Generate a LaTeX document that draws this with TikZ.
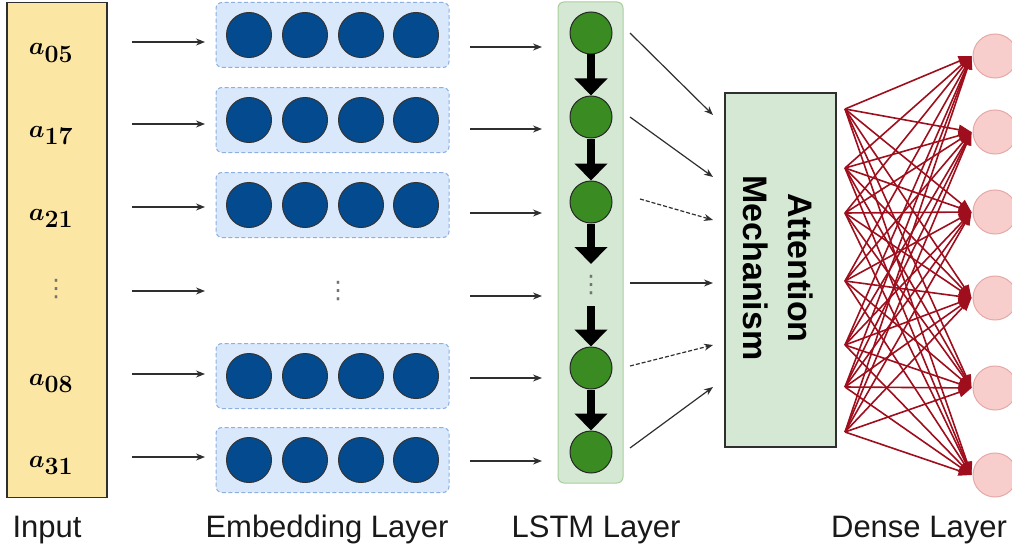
\documentclass[tikz,border=0pt]{standalone}
\usepackage{fontspec}
\newfontfamily\labfont{Liberation Sans}
\newfontfamily\symfont{DejaVu Sans}
\usetikzlibrary{arrows.meta}

\definecolor{inputfill}{HTML}{FCE6A4}
\definecolor{embfill}{HTML}{DAE8FC}
\definecolor{embline}{HTML}{8DB0E0}
\definecolor{embdot}{HTML}{034A8E}
\definecolor{lstmfill}{HTML}{D5E8D4}
\definecolor{lstmline}{HTML}{A8CF9C}
\definecolor{lstmdot}{HTML}{3A8C22}
\definecolor{densered}{HTML}{9E0E1C}
\definecolor{outfill}{HTML}{F8CECC}
\definecolor{outline}{HTML}{E6A9A7}
\definecolor{edge}{HTML}{2F2F2F}

\tikzset{
  inbox/.style={draw=edge, line width=1.5pt, fill=inputfill, minimum width=100pt, minimum height=495pt, inner sep=0pt},
  inlabel/.style={anchor=base, inner sep=0pt, font=\fontsize{39}{42}\selectfont\boldmath},
  embbox/.style={draw=embline, dash pattern=on 4pt off 2.5pt, line width=1pt, fill=embfill, rounded corners=6pt, minimum width=233pt, minimum height=65pt, inner sep=0pt},
  embcell/.style={circle, draw=black!80, line width=1pt, fill=embdot, minimum size=45pt, inner sep=0pt},
  lstmbox/.style={draw=lstmline, line width=1pt, fill=lstmfill, rounded corners=6pt, minimum width=65pt, minimum height=481pt, inner sep=0pt},
  lstmcell/.style={circle, draw=black!85, line width=1pt, fill=lstmdot, minimum size=42pt, inner sep=0pt},
  flow/.style={draw=edge, line width=1.2pt, -{Stealth[length=9pt,width=7pt]}},
  dashflow/.style={flow, dash pattern=on 4pt off 2pt},
  bigarrow/.style={draw=black, line width=8pt, -{Triangle[length=17pt,width=32pt]}},
  attbox/.style={draw=edge, line width=1.5pt, fill=lstmfill, minimum width=111pt, minimum height=354pt, inner sep=0pt},
  outcell/.style={circle, draw=outline, line width=1pt, fill=outfill, minimum size=44pt, inner sep=0pt},
  denselink/.style={draw=densered, line width=1.6pt, -{Triangle[length=13pt,width=10pt]}},
  caption/.style={anchor=base, inner sep=0pt, font=\labfont\fontsize{31}{36}\selectfont, text=black!90},
  vdots/.style={inner sep=0pt, text=black!55, font=\symfont\fontsize{24}{26}\selectfont},
}

\begin{document}
\begin{tikzpicture}[x=1pt, y=-1pt]
\useasboundingbox (0,0) rectangle (1012,551);
\clip (0,0) rectangle (1012,551);

% ---- input column ----
\node[inbox] (inp) at (57,250) {};
\node[inlabel] (x1) at (51,55) {$a_{05}$};
\node[inlabel] (x2) at (51,137) {$a_{17}$};
\node[inlabel] (x3) at (51,220) {$a_{21}$};
\node[vdots] (x4) at (56,289) {⋮};
\node[inlabel] (x5) at (51,385) {$a_{08}$};
\node[inlabel] (x6) at (51,467) {$a_{31}$};

% ---- embedding rows ----
\foreach \r/\y in {1/35, 2/120, 3/205, 5/376, 6/460} {
  \node[embbox] (e\r) at (332.5,\y) {};
  \foreach \c/\x in {1/249, 2/305, 3/361, 4/416}
    \node[embcell] (e\r c\c) at (\x,\y) {};
}
\node[vdots] (e4) at (338,291) {⋮};

% input -> embedding
\foreach \r/\y in {1/42, 2/124, 3/207, 4/291, 5/374, 6/457} {
  \coordinate (ia\r) at (132,\y);
  \coordinate (ib\r) at (205,\y);
  \draw[flow] (ia\r) -- (ib\r);
}

% embedding -> LSTM
\foreach \r/\y in {1/47, 2/129, 3/213, 4/296, 5/378, 6/461} {
  \coordinate (ea\r) at (470,\y);
  \coordinate (eb\r) at (542,\y);
  \draw[flow] (ea\r) -- (eb\r);
}

% ---- LSTM column ----
\node[lstmbox] (lstm) at (590.5,242.5) {};
\node[lstmcell] (h1) at (591,33) {};
\node[lstmcell] (h2) at (591,117) {};
\node[lstmcell] (h3) at (591,202) {};
\node[vdots] (hd) at (591,285) {⋮};
\node[lstmcell] (h5) at (591,368) {};
\node[lstmcell] (h6) at (591,452) {};
\coordinate (hdin) at (591,264);
\coordinate (hdout) at (591,306);

\draw[bigarrow] (h1.south) -- (h2.north);
\draw[bigarrow] (h2.south) -- (h3.north);
\draw[bigarrow] (h3.south) -- (hdin);
\draw[bigarrow] (hdout) -- (h5.north);
\draw[bigarrow] (h5.south) -- (h6.north);

% ---- attention ----
\node[attbox] (att) at (780.5,270) {};
\node[rotate=-90, align=center, inner sep=0pt,
      font=\labfont\bfseries\fontsize{34}{45}\selectfont] (attlabel) at (778,268)
  {Attention\\Mechanism};

\coordinate (s1) at (630,33);   \coordinate (t1) at (713,115);
\coordinate (s2) at (630,117);  \coordinate (t2) at (713,177);
\coordinate (s3) at (640,199);  \coordinate (t3) at (713,220);
\coordinate (s4) at (630,283);  \coordinate (t4) at (713,283);
\coordinate (s5) at (630,366);  \coordinate (t5) at (713,345);
\coordinate (s6) at (630,448);  \coordinate (t6) at (713,387);
\draw[flow] (s1) -- (t1);
\draw[flow] (s2) -- (t2);
\draw[dashflow] (s3) -- (t3);
\draw[flow] (s4) -- (t4);
\draw[dashflow] (s5) -- (t5);
\draw[flow] (s6) -- (t6);

% ---- dense layer ----
\foreach \j/\y in {1/56, 2/132, 3/212, 4/298, 5/388, 6/475}
  \node[outcell] (o\j) at (995,\y) {};
\foreach \i/\y in {1/109, 2/168, 3/213, 4/281, 5/345, 6/387, 7/432}
  \coordinate (d\i) at (845,\y);
\foreach \i in {1,...,7}
  \foreach \j in {1,...,6}
    \draw[denselink] (d\i) -- ([xshift=-1pt]o\j.west);

% ---- captions ----
\node[caption] (capin) at (47,537) {Input};
\node[caption] (capemb) at (327,537) {Embedding Layer};
\node[caption] (caplstm) at (596,537) {LSTM Layer};
\node[caption] (capdense) at (919,537) {Dense Layer};
\end{tikzpicture}
\end{document}
